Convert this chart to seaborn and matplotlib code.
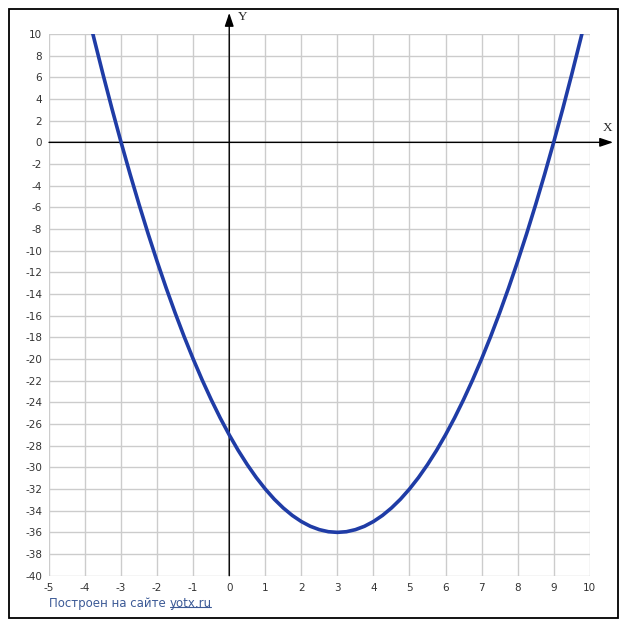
import matplotlib
matplotlib.use("Agg")
import matplotlib.pyplot as plt
import seaborn as sns
import pandas as pd
from matplotlib.patches import Rectangle
from matplotlib.lines import Line2D

# Points of the curve
x_vals = [-3.8, -3.75, -3.5, -3.25, -3.0, -2.75, -2.5, -2.25, -2.0, -1.75, -1.5, -1.25,
          -1.0, -0.75, -0.5, -0.25, 0.0, 0.25, 0.5, 0.75, 1.0, 1.25, 1.5, 1.75, 2.0, 2.25,
          2.5, 2.75, 3.0, 3.25, 3.5, 3.75, 4.0, 4.25, 4.5, 4.75, 5.0, 5.25, 5.5, 5.75,
          6.0, 6.25, 6.5, 6.75, 7.0, 7.25, 7.5, 7.75, 8.0, 8.25, 8.5, 8.75, 9.0, 9.25,
          9.5, 9.75, 9.8]
y_vals = [10.24, 9.56, 6.25, 3.06, 0, -2.94, -5.75, -8.44, -11, -13.44, -15.75, -17.94,
          -20, -21.94, -23.75, -25.44, -27, -28.44, -29.75, -30.94, -32, -32.94, -33.75,
          -34.44, -35, -35.44, -35.75, -35.94, -36, -35.94, -35.75, -35.44, -35, -34.44,
          -33.75, -32.94, -32, -30.94, -29.75, -28.44, -27, -25.44, -23.75, -21.94, -20,
          -17.94, -15.75, -13.44, -11, -8.44, -5.75, -2.94, 0, 3.06, 6.25, 9.56, 10.24]

x_ticks = list(range(-5, 11))
y_ticks = list(range(-40, 11, 2))

footer_text = "Построен на сайте "
footer_link = "yotx.ru"

sns.set_style("white")
plt.rcParams['font.family'] = ['DejaVu Sans']

fig = plt.figure(figsize=(6.27, 6.30), dpi=100)
W, H = 627, 630
ax = fig.add_axes([49 / W, 1 - 575.7 / H, (589.7 - 49) / W, (575.7 - 34) / H])

df = pd.DataFrame({'x': x_vals, 'y': y_vals})
sns.lineplot(data=df, x='x', y='y', ax=ax, sort=False, estimator=None,
             color='#1f3ca6', linewidth=2.6, zorder=5)

ax.set_xlim(-5, 10)
ax.set_ylim(-40, 10)
ax.set_xticks(x_ticks)
ax.set_yticks(y_ticks)
ax.set_xticklabels([str(t) for t in x_ticks], fontsize=7.5, color='#333333')
ax.set_yticklabels([str(t) for t in y_ticks], fontsize=7.5, color='#333333')
ax.tick_params(length=0, pad=5)
ax.grid(True, color='#cccccc', linewidth=1.0)
ax.set_xlabel('')
ax.set_ylabel('')
for s in ax.spines.values():
    s.set_visible(False)

# coordinate axes with arrows
arrow = dict(arrowstyle='-|>,head_length=0.8,head_width=0.27', color='black', lw=1.0,
             shrinkA=0, shrinkB=0)
ax.annotate('', xy=(10.65, 0), xytext=(-5, 0), xycoords='data', arrowprops=arrow,
            annotation_clip=False, zorder=4)
ax.annotate('', xy=(0, 11.95), xytext=(0, -40), xycoords='data', arrowprops=arrow,
            annotation_clip=False, zorder=4)
ax.text(10.5, 1.3, 'X', fontsize=9.5, family=['Liberation Serif'], ha='center', va='center',
        clip_on=False)
ax.text(0.38, 11.6, 'Y', fontsize=9.5, family=['Liberation Serif'], ha='center', va='center',
        clip_on=False)

# outer frame
fig.patches.append(Rectangle((9 / W, 12 / H), 609 / W, 609 / H, transform=fig.transFigure,
                             fill=False, edgecolor='black', linewidth=1.3))

# footer
t1 = fig.text(49 / W, 1 - 603 / H, footer_text, fontsize=8.5, color='#3c5a96',
              ha='left', va='center')
fig.canvas.draw()
r = fig.canvas.get_renderer()
bb = t1.get_window_extent(r)
t2 = fig.text(bb.x1 / W, 1 - 603 / H, footer_link, fontsize=8.5, color='#3c5a96',
              ha='left', va='center')
bb2 = t2.get_window_extent(r)
uy = (bb2.y0 + 2.5) / H
fig.lines.append(Line2D([bb2.x0 / W, (bb2.x1 - 1) / W], [uy, uy], transform=fig.transFigure,
                        color='#3c5a96', linewidth=0.8))

fig.savefig('out.png', dpi=100)
